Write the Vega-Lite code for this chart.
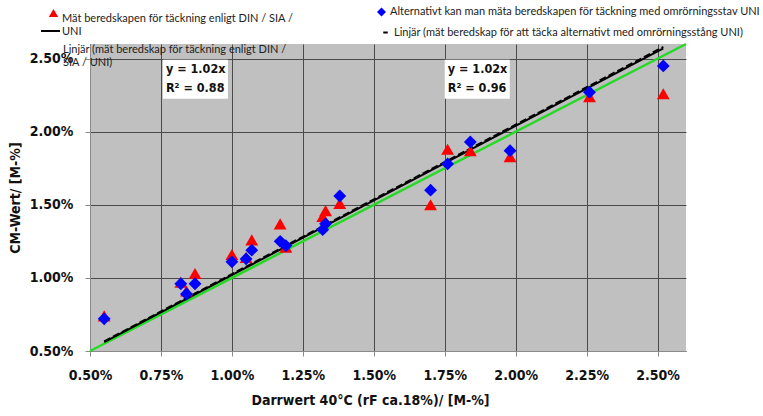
{
  "$schema": "https://vega.github.io/schema/vega-lite/v6.json",
  "width": 596,
  "height": 307,
  "autosize": {"type": "none"},
  "padding": {"left": 90, "top": 44, "right": 77, "bottom": 65},
  "background": "white",
  "config": {
    "view": {"fill": "#c0c0c0", "stroke": null},
    "axis": {
      "labelFont": "DejaVu Sans Condensed",
      "labelFontWeight": "bold",
      "labelFontSize": 14,
      "labelColor": "#111111",
      "titleFont": "DejaVu Sans Condensed",
      "titleFontWeight": "bold",
      "titleFontSize": 14,
      "titleColor": "#111111",
      "gridColor": "#4a4a4a",
      "gridOpacity": 1,
      "gridWidth": 1,
      "domainColor": "#8a8a8a",
      "domainWidth": 1,
      "tickColor": "#8a8a8a",
      "tickSize": 5,
      "labelPadding": 12
    },
    "legend": {
      "title": null,
      "padding": 0,
      "labelFont": "Lato",
      "labelFontSize": 11,
      "labelColor": "#222222",
      "labelLimit": 0
    }
  },
  "datasets": {
    "ref": [{"x": 0.5, "y": 0.5}, {"x": 2.6, "y": 2.6}],
    "fitDin": [
      {"x": 0.55, "y": 0.561, "series": "Linjär (mät beredskap för täckning enligt DIN / SIA / UNI)"},
      {"x": 2.52, "y": 2.570, "series": "Linjär (mät beredskap för täckning enligt DIN / SIA / UNI)"}
    ],
    "fitAlt": [
      {"x": 0.55, "y": 0.566, "series": "Linjär (mät beredskap för att täcka alternativt med omrörningsstång UNI)"},
      {"x": 2.52, "y": 2.580, "series": "Linjär (mät beredskap för att täcka alternativt med omrörningsstång UNI)"}
    ],
    "din": [
      {"x": 0.55, "y": 0.74, "series": "Mät beredskapen för täckning enligt DIN / SIA / UNI"},
      {"x": 0.82, "y": 0.97, "series": "Mät beredskapen för täckning enligt DIN / SIA / UNI"},
      {"x": 0.84, "y": 0.91, "series": "Mät beredskapen för täckning enligt DIN / SIA / UNI"},
      {"x": 0.87, "y": 1.03, "series": "Mät beredskapen för täckning enligt DIN / SIA / UNI"},
      {"x": 1.00, "y": 1.16, "series": "Mät beredskapen för täckning enligt DIN / SIA / UNI"},
      {"x": 1.05, "y": 1.14, "series": "Mät beredskapen för täckning enligt DIN / SIA / UNI"},
      {"x": 1.07, "y": 1.26, "series": "Mät beredskapen för täckning enligt DIN / SIA / UNI"},
      {"x": 1.17, "y": 1.37, "series": "Mät beredskapen för täckning enligt DIN / SIA / UNI"},
      {"x": 1.19, "y": 1.21, "series": "Mät beredskapen för täckning enligt DIN / SIA / UNI"},
      {"x": 1.32, "y": 1.42, "series": "Mät beredskapen för täckning enligt DIN / SIA / UNI"},
      {"x": 1.33, "y": 1.46, "series": "Mät beredskapen för täckning enligt DIN / SIA / UNI"},
      {"x": 1.38, "y": 1.51, "series": "Mät beredskapen för täckning enligt DIN / SIA / UNI"},
      {"x": 1.70, "y": 1.50, "series": "Mät beredskapen för täckning enligt DIN / SIA / UNI"},
      {"x": 1.76, "y": 1.88, "series": "Mät beredskapen för täckning enligt DIN / SIA / UNI"},
      {"x": 1.84, "y": 1.87, "series": "Mät beredskapen för täckning enligt DIN / SIA / UNI"},
      {"x": 1.98, "y": 1.83, "series": "Mät beredskapen för täckning enligt DIN / SIA / UNI"},
      {"x": 2.26, "y": 2.24, "series": "Mät beredskapen för täckning enligt DIN / SIA / UNI"},
      {"x": 2.52, "y": 2.26, "series": "Mät beredskapen för täckning enligt DIN / SIA / UNI"}
    ],
    "alt": [
      {"x": 0.55, "y": 0.72, "series": "Alternativt kan man mäta beredskapen för täckning med omrörningsstav UNI"},
      {"x": 0.82, "y": 0.96, "series": "Alternativt kan man mäta beredskapen för täckning med omrörningsstav UNI"},
      {"x": 0.84, "y": 0.89, "series": "Alternativt kan man mäta beredskapen för täckning med omrörningsstav UNI"},
      {"x": 0.87, "y": 0.96, "series": "Alternativt kan man mäta beredskapen för täckning med omrörningsstav UNI"},
      {"x": 1.00, "y": 1.11, "series": "Alternativt kan man mäta beredskapen för täckning med omrörningsstav UNI"},
      {"x": 1.05, "y": 1.13, "series": "Alternativt kan man mäta beredskapen för täckning med omrörningsstav UNI"},
      {"x": 1.07, "y": 1.19, "series": "Alternativt kan man mäta beredskapen för täckning med omrörningsstav UNI"},
      {"x": 1.17, "y": 1.25, "series": "Alternativt kan man mäta beredskapen för täckning med omrörningsstav UNI"},
      {"x": 1.19, "y": 1.22, "series": "Alternativt kan man mäta beredskapen för täckning med omrörningsstav UNI"},
      {"x": 1.32, "y": 1.33, "series": "Alternativt kan man mäta beredskapen för täckning med omrörningsstav UNI"},
      {"x": 1.33, "y": 1.37, "series": "Alternativt kan man mäta beredskapen för täckning med omrörningsstav UNI"},
      {"x": 1.38, "y": 1.56, "series": "Alternativt kan man mäta beredskapen för täckning med omrörningsstav UNI"},
      {"x": 1.70, "y": 1.60, "series": "Alternativt kan man mäta beredskapen för täckning med omrörningsstav UNI"},
      {"x": 1.76, "y": 1.78, "series": "Alternativt kan man mäta beredskapen för täckning med omrörningsstav UNI"},
      {"x": 1.84, "y": 1.93, "series": "Alternativt kan man mäta beredskapen för täckning med omrörningsstav UNI"},
      {"x": 1.98, "y": 1.87, "series": "Alternativt kan man mäta beredskapen för täckning med omrörningsstav UNI"},
      {"x": 2.26, "y": 2.27, "series": "Alternativt kan man mäta beredskapen för täckning med omrörningsstav UNI"},
      {"x": 2.52, "y": 2.45, "series": "Alternativt kan man mäta beredskapen för täckning med omrörningsstav UNI"}
    ],
    "boxes": [
      {"x1": 0.757, "x2": 0.986, "y1": 2.493, "y2": 2.226, "label": "y = 1.02x\nR² = 0.88"},
      {"x1": 1.750, "x2": 1.979, "y1": 2.493, "y2": 2.226, "label": "y = 1.02x\nR² = 0.96"}
    ]
  },
  "layer": [
    {
      "data": {"name": "ref"},
      "mark": {"type": "line", "color": "#27d927", "strokeWidth": 2.5},
      "encoding": {
        "x": {
          "field": "x", "type": "quantitative",
          "scale": {"domain": [0.5, 2.6], "nice": false, "zero": false},
          "axis": {
            "values": [0.5, 0.75, 1.0, 1.25, 1.5, 1.75, 2.0, 2.25, 2.5],
            "labelExpr": "format(datum.value, '.2f') + '%'",
            "labelFlush": false,
            "title": "Darrwert 40°C (rF ca.18%)/ [M-%]",
            "titlePadding": 11,
            "titleX": 280
          }
        },
        "y": {
          "field": "y", "type": "quantitative",
          "scale": {"domain": [0.5, 2.6], "nice": false, "zero": false},
          "axis": {
            "values": [0.5, 0.75, 1.0, 1.25, 1.5, 1.75, 2.0, 2.25, 2.5],
            "labelExpr": "format(datum.value, '.2f') + '%'",
            "labelFlush": false,
            "title": "CM-Wert/ [M-%]",
            "titlePadding": 7
          }
        }
      }
    },
    {
      "data": {"name": "fitDin"},
      "mark": {"type": "line", "strokeWidth": 2},
      "encoding": {
        "x": {"field": "x", "type": "quantitative"},
        "y": {"field": "y", "type": "quantitative"},
        "color": {
          "field": "series", "type": "nominal",
          "scale": {"range": ["black"]},
          "legend": {
            "orient": "none", "legendX": -50, "legendY": -23.5,
            "symbolType": "stroke", "symbolSize": 361, "symbolStrokeWidth": 2,
            "labelOffset": 2, "labelBaseline": "top",
            "labelExpr": "['', 'Linjär (mät beredskap för täckning enligt DIN /', 'SIA / UNI)']"
          }
        }
      }
    },
    {
      "data": {"name": "fitAlt"},
      "mark": {"type": "line", "strokeWidth": 2, "strokeDash": [7, 3]},
      "encoding": {
        "x": {"field": "x", "type": "quantitative"},
        "y": {"field": "y", "type": "quantitative"},
        "color": {
          "field": "series", "type": "nominal",
          "scale": {"range": ["black"]},
          "legend": {
            "orient": "none", "legendX": 290, "legendY": -17,
            "symbolType": "stroke", "symbolSize": 20, "symbolStrokeWidth": 2,
            "symbolDash": [1, 0],
            "labelOffset": 3
          }
        }
      }
    },
    {
      "data": {"name": "din"},
      "mark": {"type": "point", "filled": true, "size": 165, "opacity": 1},
      "encoding": {
        "x": {"field": "x", "type": "quantitative"},
        "y": {"field": "y", "type": "quantitative"},
        "color": {
          "field": "series", "type": "nominal",
          "scale": {"range": ["#ff0000"]},
          "legend": {
            "orient": "none", "legendX": -42, "legendY": -36.5,
            "symbolSize": 90, "labelOffset": 3, "labelBaseline": "top",
            "labelExpr": "['Mät beredskapen för täckning enligt DIN / SIA /', 'UNI']"
          }
        },
        "shape": {
          "field": "series", "type": "nominal",
          "scale": {"range": ["triangle-up"]},
          "legend": {
            "orient": "none", "legendX": -42, "legendY": -36.5,
            "symbolSize": 90, "labelOffset": 3, "labelBaseline": "top",
            "labelExpr": "['Mät beredskapen för täckning enligt DIN / SIA /', 'UNI']"
          }
        }
      }
    },
    {
      "data": {"name": "alt"},
      "mark": {"type": "point", "filled": true, "size": 165, "opacity": 1},
      "encoding": {
        "x": {"field": "x", "type": "quantitative"},
        "y": {"field": "y", "type": "quantitative"},
        "color": {
          "field": "series", "type": "nominal",
          "scale": {"range": ["#0000ff"]},
          "legend": {
            "orient": "none", "legendX": 286, "legendY": -37.5,
            "symbolSize": 80, "labelOffset": 3
          }
        },
        "shape": {
          "field": "series", "type": "nominal",
          "scale": {"range": ["diamond"]},
          "legend": {
            "orient": "none", "legendX": 286, "legendY": -37.5,
            "symbolSize": 80, "labelOffset": 3
          }
        }
      }
    },
    {
      "data": {"name": "boxes"},
      "mark": {"type": "rect", "fill": "white"},
      "encoding": {
        "x": {"field": "x1", "type": "quantitative"},
        "x2": {"field": "x2"},
        "y": {"field": "y1", "type": "quantitative"},
        "y2": {"field": "y2"}
      }
    },
    {
      "data": {"name": "boxes"},
      "mark": {
        "type": "text", "align": "left", "baseline": "top", "dx": 3, "dy": 3,
        "font": "DejaVu Sans Condensed", "fontWeight": "bold", "fontSize": 12.5,
        "lineBreak": "\n", "lineHeight": 19, "color": "#111111"
      },
      "encoding": {
        "x": {"field": "x1", "type": "quantitative"},
        "y": {"field": "y1", "type": "quantitative"},
        "text": {"field": "label"}
      }
    }
  ],
  "resolve": {"scale": {"color": "independent", "shape": "independent"}}
}
